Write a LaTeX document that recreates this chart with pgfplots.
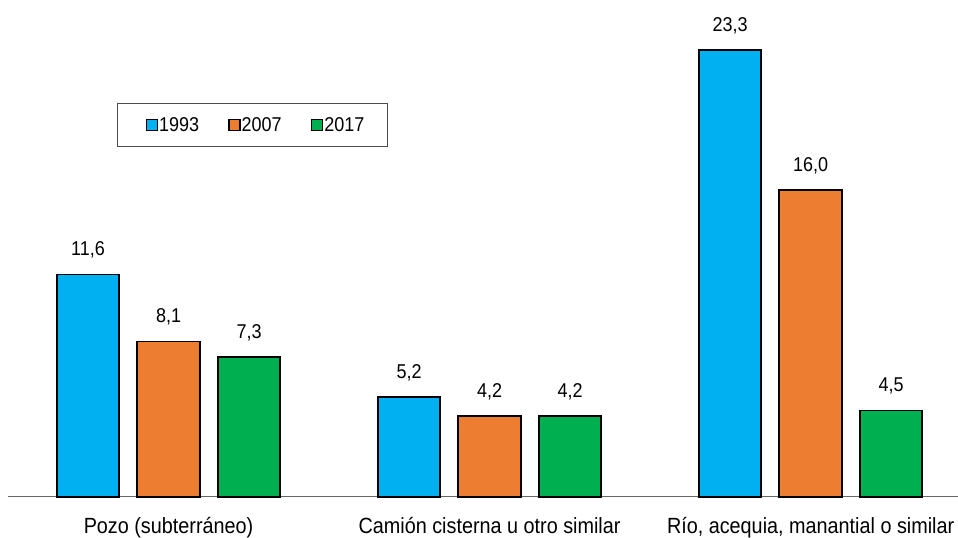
\documentclass[border=0pt]{standalone}
\usepackage{fontspec}
\setmainfont{Liberation Sans}[FakeStretch=0.9]
\usepackage{pgfplots}
\pgfplotsset{compat=1.18}
\definecolor{azul}{HTML}{00B0F0}
\definecolor{naranja}{HTML}{ED7D31}
\definecolor{verde}{HTML}{00B050}
\begin{document}
\begin{tikzpicture}
\begin{axis}[
    at={(8bp,41.3bp)}, anchor=south west,
    scale only axis,
    width=950bp, height=496.7bp,
    ybar=18bp, bar width=62.5bp,
    xmin=-0.5, xmax=2.459,
    ymin=0, ymax=25.92,
    hide y axis,
    axis x line*=bottom,
    x axis line style={-, draw=black!60, line width=1.2bp},
    xtick={0,1,2},
    xticklabels={Pozo (subterráneo), Camión cisterna u otro similar, {Río, acequia, manantial o similar}},
    major tick length=0pt,
    xticklabel style={font=\fontsize{22bp}{26bp}\selectfont, anchor=base, yshift=-37bp},
    clip=false,
    /pgf/number format/assume math mode=true,
    nodes near coords={\pgfmathprintnumber[fixed,fixed zerofill,precision=1,use comma]{\pgfplotspointmeta}},
    every node near coord/.append style={font=\fontsize{20bp}{24bp}\selectfont, anchor=base, yshift=18.6bp, text=black},
    legend columns=3,
    legend style={at={(0.1147,0.7926)}, anchor=north west, draw=black!70, line width=0.8bp,
        font=\fontsize{20bp}{24bp}\selectfont, inner xsep=22bp, inner ysep=13bp,
        /tikz/every even column/.style={column sep=22bp},
        nodes={inner sep=1bp}},
    legend image code/.code={\path (0bp,0bp); \draw[#1, line width=1.5bp] (6bp,-5.5bp) rectangle (17bp,5.5bp);},
]
\addplot[fill=azul, draw=black, line width=1.8bp] coordinates {(0,11.6) (1,5.2) (2,23.3)};
\addplot[fill=naranja, draw=black, line width=1.8bp] coordinates {(0,8.1) (1,4.2) (2,16.0)};
\addplot[fill=verde, draw=black, line width=1.8bp] coordinates {(0,7.3) (1,4.2) (2,4.5)};
\legend{1993, 2007, 2017}
\end{axis}
\pgfresetboundingbox
\path (0,0) rectangle (958bp,538bp);
\end{tikzpicture}
\end{document}
